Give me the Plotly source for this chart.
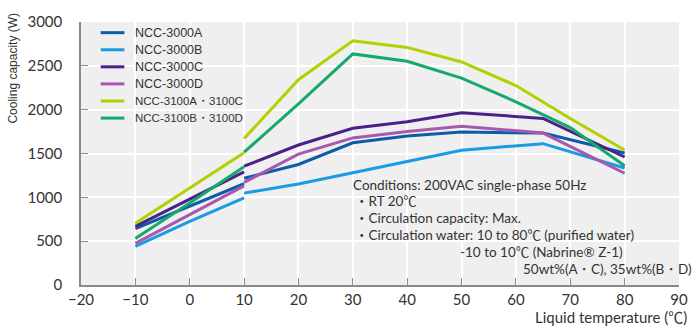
import plotly.graph_objects as go

# ---------------- data ----------------
series_names = ["NCC-3000A", "NCC-3000B", "NCC-3000C", "NCC-3000D",
                "NCC-3100A・3100C", "NCC-3100B・3100D"]
series_colors = ["#0d5ca9", "#1a9be3", "#4b2189", "#a859ad", "#b3d000", "#15a96b"]

# brine segment (-10 to 10 degC)
brine_temps = [-10, 0, 10]
brine_3000A = [642, 895, 1155]
brine_3000B = [440, 725, 995]
brine_3000C = [668, 975, 1291]
brine_3000D = [474, 800, 1130]
brine_3100AC = [704, 1105, 1508]
brine_3100BD = [531, 935, 1350]

# purified water segment (10 to 80 degC)
water_temps_3000 = [10, 20, 30, 40, 50, 65, 80]
water_temps_3100 = [10, 20, 30, 40, 50, 60, 70, 80]
water_3000A = [1217, 1375, 1622, 1700, 1744, 1733, 1505]
water_3000B = [1048, 1152, 1280, 1410, 1537, 1612, 1335]
water_3000C = [1355, 1597, 1788, 1862, 1965, 1900, 1460]
water_3000D = [1170, 1493, 1678, 1752, 1812, 1733, 1275]
water_3100AC = [1670, 2342, 2785, 2710, 2544, 2275, 1899, 1540]
water_3100BD = [1515, 2065, 2636, 2552, 2360, 2090, 1795, 1360]

x_ticks = [-20, -10, 0, 10, 20, 30, 40, 50, 60, 70, 80, 90]
y_ticks = [0, 500, 1000, 1500, 2000, 2500, 3000]

condition_lines = [
    "Conditions: 200VAC single-phase 50Hz",
    "・RT 20℃",
    "・Circulation capacity: Max.",
    "・Circulation water: 10 to 80℃ (purified water)",
    "-10 to 10℃ (Nabrine® Z-1)",
    "50wt%(A ･ C), 35wt%(B ･ D)",
]

brine_vals = [brine_3000A, brine_3000B, brine_3000C, brine_3000D, brine_3100AC, brine_3100BD]
water_vals = [water_3000A, water_3000B, water_3000C, water_3000D, water_3100AC, water_3100BD]
water_xs = [water_temps_3000] * 4 + [water_temps_3100] * 2

# ---------------- layout helpers ----------------
W, H = 700, 329
L, R, T, B = 81, 12, 14, 44
PW, PH = W - L - R, H - T - B


def px(xp):
    return (xp - L) / PW


def py(yp):
    return (H - B - yp) / PH


NARROW = "Liberation Sans, Arial, sans-serif"
MAIN = "Lato, Noto Sans CJK JP, sans-serif"
TXT = "#333333"

fig = go.Figure()
for name, col, bv, wx, wv in zip(series_names, series_colors, brine_vals, water_xs, water_vals):
    xs = list(brine_temps) + [None] + list(wx)
    ys = list(bv) + [None] + list(wv)
    fig.add_trace(go.Scatter(x=xs, y=ys, mode="lines", name=name,
                             line=dict(color=col, width=3),
                             connectgaps=False, showlegend=False))

shapes = []
annotations = []

# legend background (hides grid)
shapes.append(dict(type="rect", xref="paper", yref="paper",
                   x0=px(82), x1=px(245), y0=py(120), y1=py(14),
                   fillcolor="#efefef", line=dict(width=0), layer="between"))
for i, (name, col) in enumerate(zip(series_names, series_colors)):
    yc = 25 + i * 17.6
    shapes.append(dict(type="line", xref="paper", yref="paper",
                       x0=px(101), x1=px(125), y0=py(yc), y1=py(yc),
                       line=dict(color=col, width=3)))
    annotations.append(dict(text=name, xref="paper", yref="paper",
                            x=px(134), y=py(yc), xanchor="left", yanchor="middle",
                            showarrow=False,
                            font=dict(family=NARROW, size=12.5 if i < 4 else 11.5, color=TXT)))

# condition text
cond_pos = [(355, 181.7, "left"), (357, 198.7, "left"), (357, 216.2, "left"),
            (357, 233.7, "left"), (464, 251, "left"), (528, 268, "left")]
for txt, (xx, yy, anc) in zip(condition_lines, cond_pos):
    annotations.append(dict(text=txt, xref="paper", yref="paper",
                            x=px(xx), y=py(yy), xanchor=anc, yanchor="middle",
                            showarrow=False, font=dict(family=MAIN, size=13.5, color=TXT)))

# axis titles
annotations.append(dict(text="Cooling capacity (W)", xref="paper", yref="paper",
                        x=px(12), y=py(62), xanchor="center", yanchor="middle",
                        textangle=-90, showarrow=False,
                        font=dict(family=NARROW, size=12, color=TXT)))
annotations.append(dict(text="Liquid temperature (℃)", xref="paper", yref="paper",
                        x=px(698), y=py(318), xanchor="right", yanchor="middle",
                        showarrow=False, font=dict(family=MAIN, size=15, color=TXT)))

fig.update_layout(
    width=W, height=H,
    margin=dict(l=L, r=R, t=T, b=B),
    paper_bgcolor="white", plot_bgcolor="#efefef",
    shapes=shapes, annotations=annotations,
    showlegend=False,
)
fig.update_xaxes(range=[-20, 90], tickvals=x_ticks, showgrid=True, gridcolor="white",
                 gridwidth=2, zeroline=False, showline=True, linecolor="#8a8a8a",
                 linewidth=1.5, ticks="inside", ticklen=7, tickcolor="#8a8a8a",
                 tickfont=dict(family=MAIN, size=15, color=TXT), fixedrange=True)
fig.update_yaxes(range=[0, 3000], tickvals=y_ticks, showgrid=True, gridcolor="white",
                 gridwidth=2, zeroline=False, showline=True, linecolor="#8a8a8a",
                 linewidth=1.5, ticks="inside", ticklen=7, tickcolor="#8a8a8a",
                 ticklabelstandoff=14,
                 tickfont=dict(family=MAIN, size=15, color=TXT), fixedrange=True)

fig.write_html("out.html")
